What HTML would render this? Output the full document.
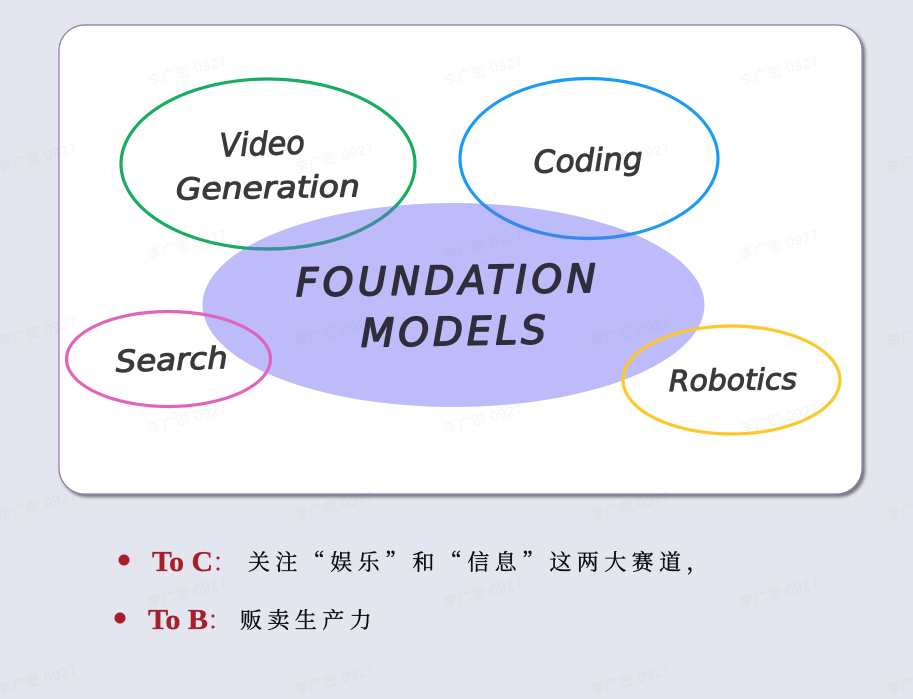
<!DOCTYPE html>
<html lang="zh-Hans">
<head>
<meta charset="utf-8">
<style>
html,body{margin:0;padding:0;width:913px;height:699px;overflow:hidden;background:#e3e6ee}
svg{display:block}
.hand{font-family:"DejaVu Sans",sans-serif;font-style:oblique;fill:#3a3a3a;stroke:#3a3a3a;stroke-width:1.1;stroke-linejoin:round}
.found{fill:#2f2e3a;stroke:#2f2e3a;stroke-width:1.7;font-size:39px}
.wm{font-family:"Liberation Sans","Noto Sans CJK SC",sans-serif;font-size:14px;fill:#8a8f9a;fill-opacity:.085;letter-spacing:.6px}
.to{font-family:"Liberation Serif",serif;font-weight:bold;font-size:29px;fill:#a81f2c;stroke:#a81f2c;stroke-width:.3}
.cn{font-family:"Noto Serif CJK SC","Liberation Serif",serif;font-size:22px;fill:#0b0b0b;letter-spacing:5.4px;stroke:#0b0b0b;stroke-width:.35}
</style>
</head>
<body>
<svg width="913" height="699" viewBox="0 0 913 699" xmlns="http://www.w3.org/2000/svg">
<defs>
<filter id="sh" x="-5%" y="-5%" width="110%" height="110%"><feDropShadow dx="2.5" dy="2.5" stdDeviation="1.6" flood-color="#000" flood-opacity=".5"/></filter>
<clipPath id="pur"><ellipse cx="453.500" cy="305" rx="251" ry="102"/></clipPath>
</defs>
<rect x="59" y="25" width="803" height="469" rx="26" ry="26" fill="#fff" stroke="#8f76ad" stroke-width="1.2" filter="url(#sh)"/>
<ellipse cx="453.500" cy="305" rx="251" ry="102" fill="#bdbbfa"/>
<g fill="none" stroke-width="3.2">
<ellipse cx="268" cy="164" rx="147" ry="85" stroke="#19ad5f"/>
<ellipse cx="589" cy="158.500" rx="129" ry="80" stroke="#1b9bf6"/>
<ellipse cx="168.500" cy="359" rx="102" ry="47.500" stroke="#e064bd"/>
<ellipse cx="731.500" cy="380" rx="108.500" ry="54" stroke="#fcc82e"/>
</g>
<g fill="none" stroke-width="3.2" clip-path="url(#pur)">
<ellipse cx="268" cy="164" rx="147" ry="85" stroke="#3f8e9e"/>
<ellipse cx="589" cy="158.500" rx="129" ry="80" stroke="#3a87f0"/>
</g>
<text class="hand" transform="rotate(-2 262 155)" x="220" y="155" font-size="32" textLength="85" lengthAdjust="spacingAndGlyphs">Video</text>
<text class="hand" transform="rotate(-1 268 198)" x="176" y="198" font-size="30" textLength="184" lengthAdjust="spacingAndGlyphs">Generation</text>
<text class="hand" transform="rotate(-2 588 171)" x="534" y="171" font-size="31" textLength="109" lengthAdjust="spacingAndGlyphs">Coding</text>
<text class="hand found" transform="rotate(-.8 446 294)" x="296" y="294" textLength="300" lengthAdjust="spacing">FOUNDATION</text>
<text class="hand found" transform="rotate(-1 453 345)" x="361" y="345" textLength="185" lengthAdjust="spacing">MODELS</text>
<text class="hand" transform="rotate(-2 172 370)" x="116" y="370" font-size="30" textLength="112" lengthAdjust="spacingAndGlyphs">Search</text>
<text class="hand" transform="rotate(-1 733 390)" x="669" y="390" font-size="29" textLength="128" lengthAdjust="spacingAndGlyphs">Robotics</text>
<g class="wm">
<text transform="rotate(-15 149 86)" x="149" y="86">李广密 0927</text>
<text transform="rotate(-15 445 86)" x="445" y="86">李广密 0927</text>
<text transform="rotate(-15 741 86)" x="741" y="86">李广密 0927</text>
<text transform="rotate(-15 -1 173)" x="-1" y="173">李广密 0927</text>
<text transform="rotate(-15 296 173)" x="296" y="173">李广密 0927</text>
<text transform="rotate(-15 592 173)" x="592" y="173">李广密 0927</text>
<text transform="rotate(-15 888 173)" x="888" y="173">李广密 0927</text>
<text transform="rotate(-15 149 260)" x="149" y="260">李广密 0927</text>
<text transform="rotate(-15 445 260)" x="445" y="260">李广密 0927</text>
<text transform="rotate(-15 741 260)" x="741" y="260">李广密 0927</text>
<text transform="rotate(-15 -1 347)" x="-1" y="347">李广密 0927</text>
<text transform="rotate(-15 296 347)" x="296" y="347">李广密 0927</text>
<text transform="rotate(-15 592 347)" x="592" y="347">李广密 0927</text>
<text transform="rotate(-15 888 347)" x="888" y="347">李广密 0927</text>
<text transform="rotate(-15 149 434)" x="149" y="434">李广密 0927</text>
<text transform="rotate(-15 445 434)" x="445" y="434">李广密 0927</text>
<text transform="rotate(-15 741 434)" x="741" y="434">李广密 0927</text>
<text transform="rotate(-15 -1 521)" x="-1" y="521">李广密 0927</text>
<text transform="rotate(-15 296 521)" x="296" y="521">李广密 0927</text>
<text transform="rotate(-15 592 521)" x="592" y="521">李广密 0927</text>
<text transform="rotate(-15 888 521)" x="888" y="521">李广密 0927</text>
<text transform="rotate(-15 149 608)" x="149" y="608">李广密 0927</text>
<text transform="rotate(-15 445 608)" x="445" y="608">李广密 0927</text>
<text transform="rotate(-15 741 608)" x="741" y="608">李广密 0927</text>
<text transform="rotate(-15 -1 695)" x="-1" y="695">李广密 0927</text>
<text transform="rotate(-15 296 695)" x="296" y="695">李广密 0927</text>
<text transform="rotate(-15 592 695)" x="592" y="695">李广密 0927</text>
<text transform="rotate(-15 888 695)" x="888" y="695">李广密 0927</text>
</g>
<circle cx="124" cy="560" r="5.500" fill="#a81f2c"/>
<circle cx="120" cy="618" r="5.500" fill="#a81f2c"/>
<text class="to" x="152" y="571" textLength="61" lengthAdjust="spacingAndGlyphs">To C</text>
<text class="to" x="148" y="629" textLength="60" lengthAdjust="spacingAndGlyphs">To B</text>
<g fill="#a81f2c"><circle cx="218" cy="558" r="1.500"/><circle cx="218" cy="569" r="1.500"/><circle cx="213" cy="616" r="1.500"/><circle cx="213" cy="627" r="1.500"/></g>
<text class="cn" x="248" y="570">关注“娱乐”和“信息”这两大赛道，</text>
<text class="cn" x="240" y="628">贩卖生产力</text>
</svg>
</body>
</html>
